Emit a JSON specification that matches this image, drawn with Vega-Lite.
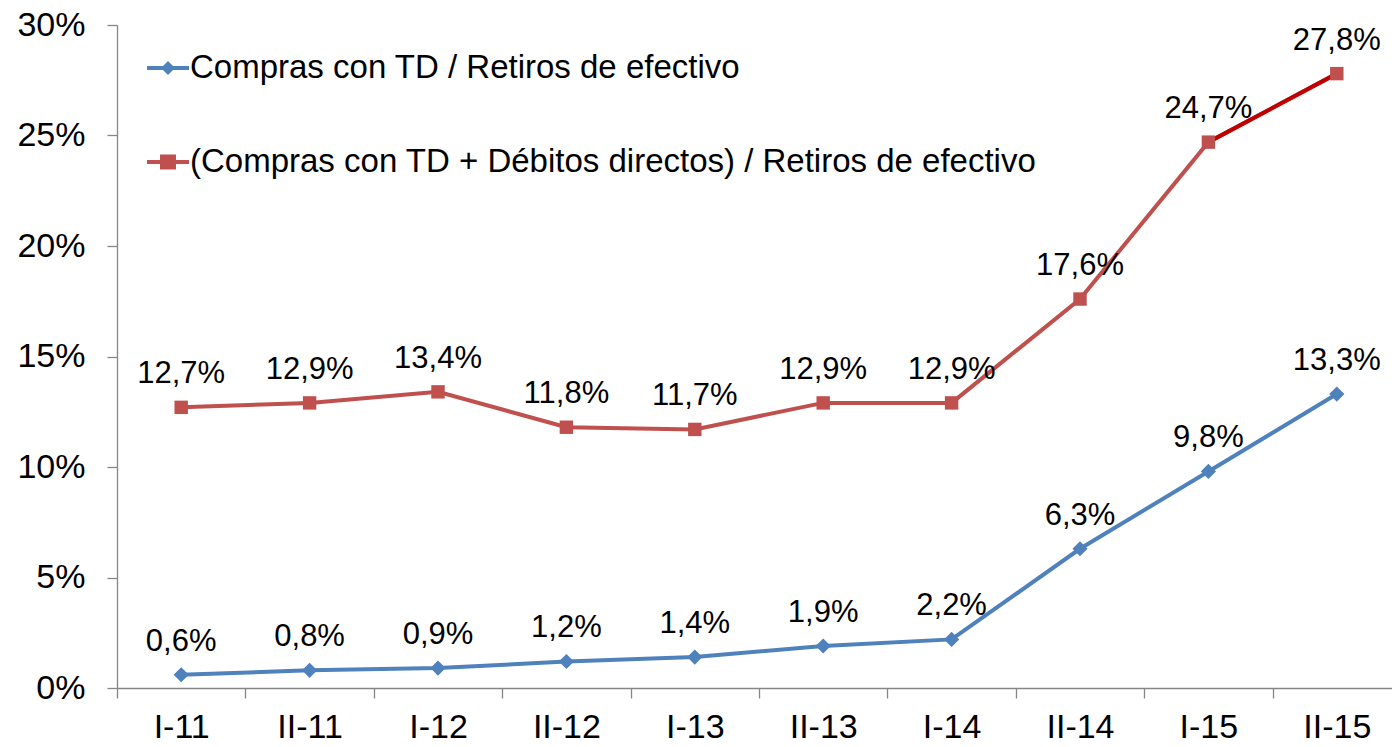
{
  "$schema": "https://vega.github.io/schema/vega-lite/v6.json",
  "autosize": {"type": "none"},
  "width": 1275,
  "height": 663,
  "padding": {"left": 117, "top": 25, "right": 0, "bottom": 59},
  "background": "white",
  "config": {
    "view": {"stroke": null},
    "font": "Liberation Sans",
    "locale": {"number": {"decimal": ",", "thousands": ".", "grouping": [3], "currency": ["$", ""]}}
  },
  "datasets": {
    "main": [
      {"periodo": "I-11", "serie": "Compras con TD / Retiros de efectivo", "valor": 0.006},
      {"periodo": "II-11", "serie": "Compras con TD / Retiros de efectivo", "valor": 0.008},
      {"periodo": "I-12", "serie": "Compras con TD / Retiros de efectivo", "valor": 0.009},
      {"periodo": "II-12", "serie": "Compras con TD / Retiros de efectivo", "valor": 0.012},
      {"periodo": "I-13", "serie": "Compras con TD / Retiros de efectivo", "valor": 0.014},
      {"periodo": "II-13", "serie": "Compras con TD / Retiros de efectivo", "valor": 0.019},
      {"periodo": "I-14", "serie": "Compras con TD / Retiros de efectivo", "valor": 0.022},
      {"periodo": "II-14", "serie": "Compras con TD / Retiros de efectivo", "valor": 0.063},
      {"periodo": "I-15", "serie": "Compras con TD / Retiros de efectivo", "valor": 0.098},
      {"periodo": "II-15", "serie": "Compras con TD / Retiros de efectivo", "valor": 0.133},
      {"periodo": "I-11", "serie": "(Compras con TD + Débitos directos) / Retiros de efectivo", "valor": 0.127},
      {"periodo": "II-11", "serie": "(Compras con TD + Débitos directos) / Retiros de efectivo", "valor": 0.129},
      {"periodo": "I-12", "serie": "(Compras con TD + Débitos directos) / Retiros de efectivo", "valor": 0.134},
      {"periodo": "II-12", "serie": "(Compras con TD + Débitos directos) / Retiros de efectivo", "valor": 0.118},
      {"periodo": "I-13", "serie": "(Compras con TD + Débitos directos) / Retiros de efectivo", "valor": 0.117},
      {"periodo": "II-13", "serie": "(Compras con TD + Débitos directos) / Retiros de efectivo", "valor": 0.129},
      {"periodo": "I-14", "serie": "(Compras con TD + Débitos directos) / Retiros de efectivo", "valor": 0.129},
      {"periodo": "II-14", "serie": "(Compras con TD + Débitos directos) / Retiros de efectivo", "valor": 0.176},
      {"periodo": "I-15", "serie": "(Compras con TD + Débitos directos) / Retiros de efectivo", "valor": 0.247},
      {"periodo": "II-15", "serie": "(Compras con TD + Débitos directos) / Retiros de efectivo", "valor": 0.278}
    ],
    "dark": [
      {"periodo": "I-15", "valor": 0.247},
      {"periodo": "II-15", "valor": 0.278}
    ]
  },
  "encoding": {
    "x": {
      "field": "periodo",
      "type": "ordinal",
      "bandPosition": 0.5,
      "scale": {
        "type": "band",
        "domain": ["I-11", "II-11", "I-12", "II-12", "I-13", "II-13", "I-14", "II-14", "I-15", "II-15"],
        "range": [0, 1284],
        "paddingInner": 0,
        "paddingOuter": 0
      },
      "axis": {
        "title": null,
        "labelAngle": 0,
        "tickBand": "extent",
        "tickSize": 10,
        "tickColor": "#868686",
        "tickWidth": 1.3,
        "domainColor": "#868686",
        "domainWidth": 1.3,
        "labelFontSize": 34,
        "labelColor": "black",
        "labelPadding": 12,
        "grid": false
      }
    },
    "y": {
      "field": "valor",
      "type": "quantitative",
      "scale": {"domain": [0, 0.3], "nice": false, "zero": true},
      "axis": {
        "title": null,
        "values": [0, 0.05, 0.1, 0.15, 0.2, 0.25, 0.3],
        "format": ".0%",
        "tickSize": 10,
        "tickColor": "#868686",
        "tickWidth": 1.3,
        "domainColor": "#868686",
        "domainWidth": 1.3,
        "labelFontSize": 34,
        "labelColor": "black",
        "labelPadding": 22,
        "grid": false
      }
    }
  },
  "layer": [
    {
      "data": {"name": "main"},
      "mark": {"type": "line", "strokeWidth": 4},
      "encoding": {
        "color": {
          "field": "serie",
          "type": "nominal",
          "scale": {
            "domain": ["Compras con TD / Retiros de efectivo", "(Compras con TD + Débitos directos) / Retiros de efectivo"],
            "range": ["#4F81BD", "#C0504D"]
          },
          "legend": {
            "title": null,
            "orient": "none",
            "legendX": 30,
            "legendY": 22,
            "padding": 0,
            "direction": "vertical",
            "symbolType": "M-1,-0.095H-0.238L0,-0.333L0.238,-0.095H1V0.095H0.238L0,0.333L-0.238,0.095H-1Z",
            "symbolSize": 1764,
            "symbolStrokeWidth": 0,
            "symbolOpacity": 1,
            "labelFontSize": 33,
            "labelColor": "black",
            "labelOffset": 1,
            "labelLimit": 2000,
            "rowPadding": 56,
            "encode": {
              "symbols": {
                "update": {
                  "fill": {"signal": "datum.value === 'Compras con TD / Retiros de efectivo' ? '#4F81BD' : '#C0504D'"},
                  "strokeWidth": {"value": 0},
                  "shape": {"signal": "datum.value === 'Compras con TD / Retiros de efectivo' ? 'M-1,-0.095H-0.238L0,-0.333L0.238,-0.095H1V0.095H0.238L0,0.333L-0.238,0.095H-1Z' : 'M-1,-0.095H-0.38V-0.36H0.38V-0.095H1V0.095H0.38V0.36H-0.38V0.095H-1Z'"}
                }
              }
            }
          }
        }
      }
    },
    {
      "data": {"name": "dark"},
      "mark": {"type": "line", "strokeWidth": 4, "color": "#C00000"},
      "encoding": {}
    },
    {
      "data": {"name": "main"},
      "transform": [{"filter": "datum.serie === 'Compras con TD / Retiros de efectivo'"}],
      "mark": {"type": "point", "shape": "diamond", "filled": true, "opacity": 1, "size": 230, "strokeWidth": 0, "color": "#4F81BD"},
      "encoding": {}
    },
    {
      "data": {"name": "main"},
      "transform": [{"filter": "datum.serie !== 'Compras con TD / Retiros de efectivo'"}],
      "mark": {"type": "point", "shape": "square", "filled": true, "opacity": 1, "size": 180, "strokeWidth": 0, "color": "#C0504D"},
      "encoding": {}
    },
    {
      "data": {"name": "main"},
      "mark": {"type": "text", "fontSize": 31, "color": "black", "dy": -24, "baseline": "alphabetic", "align": "center"},
      "encoding": {
        "text": {"field": "valor", "type": "quantitative", "format": ".1%"}
      }
    }
  ]
}
